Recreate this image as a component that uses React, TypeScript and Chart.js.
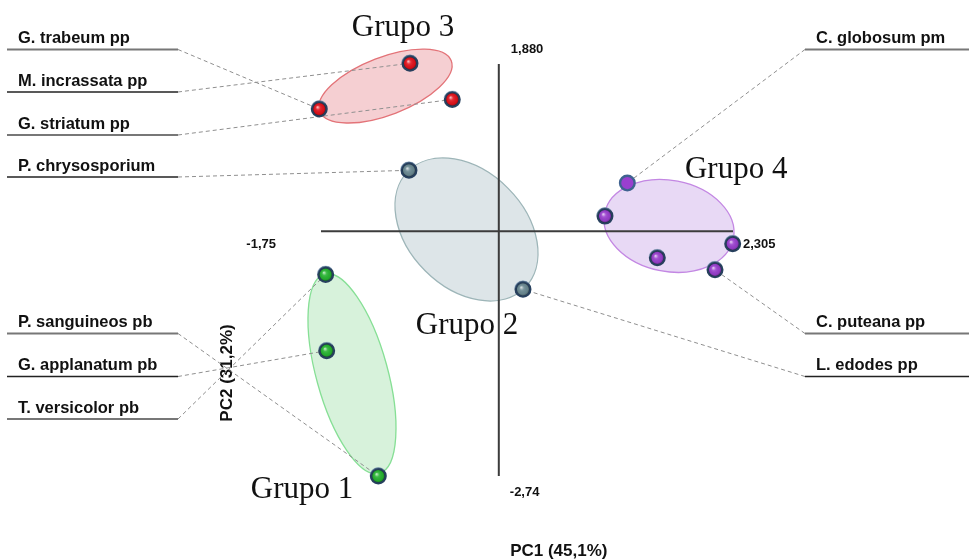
import React, { useEffect, useRef } from "react";
import { Chart, registerables } from "chart.js";

Chart.register(...registerables);

// ---------- DATA ----------
const groupNames = ["Grupo 1", "Grupo 2", "Grupo 3", "Grupo 4"];

const grupo1X = [-1.704, -1.694, -1.186];
const grupo1Y = [-0.487, -1.343, -2.752];
const grupo1Labels = ["T. versicolor pb", "G. applanatum pb", "P. sanguineos pb"];

const grupo2X = [-0.884, 0.238];
const grupo2Y = [0.685, -0.653];
const grupo2Labels = ["P. chrysosporium", "L. edodes pp"];

const grupo3X = [-0.874, -0.458, -1.767];
const grupo3Y = [1.888, 1.482, 1.373];
const grupo3Labels = ["M. incrassata pp", "G. striatum pp", "G. trabeum pp"];

const grupo4X = [1.265, 1.045, 2.302, 1.56, 2.128];
const grupo4Y = [0.542, 0.17, -0.141, -0.299, -0.434];
const grupo4Labels = ["C. globosum pm", "", "", "", "C. puteana pp"];

// confidence ellipse centres (data units)
const ellipseCX = [-1.445, -0.318, -1.115, 1.675];
const ellipseCY = [-1.602, 0.02, 1.632, 0.06];

// group title anchors (data units)
const titleX = [-1.937, -0.313, -0.943, 2.336];
const titleY = [-3.0, -1.152, 2.195, 0.595];

const xMin = -1.75;
const xMax = 2.305;
const yMin = -2.74;
const yMax = 1.88;
const xMinLabel = "-1,75";
const xMaxLabel = "2,305";
const yMinLabel = "-2,74";
const yMaxLabel = "1,880";
const xTitle = "PC1 (45,1%)";
const yTitle = "PC2 (31,2%)";

// ---------- STYLE / LAYOUT ----------
const groupColors = ["#27b531", "#6b8a93", "#e3121c", "#9a3fcf"];
const ellipseStyle = [
  { a: 103.2, b: 35.7, rot: 74.6, fill: "rgba(150,220,160,0.38)", stroke: "#86df95" },
  { a: 82.5, b: 58.5, rot: 45, fill: "rgba(190,206,210,0.52)", stroke: "#9db5b8" },
  { a: 70.4, b: 28.9, rot: -21, fill: "rgba(232,140,148,0.42)", stroke: "#e37378" },
  { a: 65.6, b: 45.6, rot: 11, fill: "rgba(205,170,232,0.45)", stroke: "#c387e3" },
];

// label slots: side, text baseline y, underline y, underline colour
const labelSlots: Record<string, { side: "L" | "R"; ty: number; ly: number; col: string; lw: number }> = {
  "G. trabeum pp": { side: "L", ty: 43, ly: 49.5, col: "#777777", lw: 2 },
  "M. incrassata pp": { side: "L", ty: 86, ly: 92, col: "#222222", lw: 1.5 },
  "G. striatum pp": { side: "L", ty: 129, ly: 135, col: "#777777", lw: 2 },
  "P. chrysosporium": { side: "L", ty: 171, ly: 177, col: "#222222", lw: 1.5 },
  "P. sanguineos pb": { side: "L", ty: 327, ly: 333.5, col: "#777777", lw: 2 },
  "G. applanatum pb": { side: "L", ty: 370, ly: 376.5, col: "#222222", lw: 1.5 },
  "T. versicolor pb": { side: "L", ty: 413, ly: 419, col: "#777777", lw: 2 },
  "C. globosum pm": { side: "R", ty: 43, ly: 49.5, col: "#777777", lw: 2 },
  "C. puteana pp": { side: "R", ty: 327, ly: 333.5, col: "#777777", lw: 2 },
  "L. edodes pp": { side: "R", ty: 370, ly: 376.5, col: "#222222", lw: 1.5 },
};

const allLabels = [grupo1Labels, grupo2Labels, grupo3Labels, grupo4Labels];
const SANS = '"Liberation Sans", Arial, sans-serif';
const SERIF = '"Liberation Serif", "Times New Roman", serif';

const pcaPlugin = {
  id: "pcaPlugin",
  beforeDatasetsDraw(chart: any) {
    const ctx: CanvasRenderingContext2D = chart.ctx;
    const xs = chart.scales.x;
    const ys = chart.scales.y;

    // ellipses
    ellipseStyle.forEach((e, i) => {
      const cx = xs.getPixelForValue(ellipseCX[i]);
      const cy = ys.getPixelForValue(ellipseCY[i]);
      ctx.save();
      ctx.beginPath();
      ctx.ellipse(cx, cy, e.a, e.b, (e.rot * Math.PI) / 180, 0, Math.PI * 2);
      ctx.fillStyle = e.fill;
      ctx.fill();
      ctx.lineWidth = 1.3;
      ctx.strokeStyle = e.stroke;
      ctx.stroke();
      ctx.restore();
    });

    // axes
    const x0 = xs.getPixelForValue(0);
    const y0 = ys.getPixelForValue(0);
    const xl = xs.getPixelForValue(xMin);
    const xr = xs.getPixelForValue(xMax);
    const yt = ys.getPixelForValue(yMax);
    const yb = ys.getPixelForValue(yMin);
    ctx.save();
    ctx.strokeStyle = "#3c3c3c";
    ctx.lineWidth = 2;
    ctx.beginPath();
    ctx.moveTo(xl, y0);
    ctx.lineTo(xr, y0);
    ctx.moveTo(x0, yt);
    ctx.lineTo(x0, yb + 1);
    ctx.stroke();

    // tick labels
    ctx.fillStyle = "#111";
    ctx.font = `bold 13px ${SANS}`;
    ctx.textBaseline = "middle";
    ctx.textAlign = "right";
    ctx.fillText(xMinLabel, xl - 45, y0 + 13);
    ctx.textAlign = "left";
    ctx.fillText(xMaxLabel, xr + 10, y0 + 13);
    ctx.fillText(yMaxLabel, x0 + 12, yt - 15);
    ctx.fillText(yMinLabel, x0 + 11, yb + 17);

    // axis titles
    ctx.font = `bold 17px ${SANS}`;
    ctx.textAlign = "center";
    ctx.textBaseline = "alphabetic";
    ctx.fillText(xTitle, x0 + 60, 556);
    ctx.save();
    ctx.translate(xl - 94, 373);
    ctx.rotate(-Math.PI / 2);
    ctx.textBaseline = "middle";
    ctx.fillText(yTitle, 0, 0);
    ctx.restore();

    // labels + leader lines
    chart.data.datasets.forEach((ds: any, di: number) => {
      const meta = chart.getDatasetMeta(di);
      allLabels[di].forEach((name: string, j: number) => {
        if (!name) return;
        const slot = labelSlots[name];
        const el = meta.data[j];
        const endX = slot.side === "L" ? 178 : 805;
        // underline
        ctx.beginPath();
        ctx.strokeStyle = slot.col;
        ctx.lineWidth = slot.lw;
        if (slot.side === "L") {
          ctx.moveTo(7, slot.ly);
          ctx.lineTo(178, slot.ly);
        } else {
          ctx.moveTo(805, slot.ly);
          ctx.lineTo(969, slot.ly);
        }
        ctx.stroke();
        // leader
        ctx.save();
        ctx.beginPath();
        ctx.setLineDash([4, 3]);
        ctx.strokeStyle = "#8f8f8f";
        ctx.lineWidth = 1;
        ctx.moveTo(endX, slot.ly);
        ctx.lineTo(el.x, el.y);
        ctx.stroke();
        ctx.restore();
        // text
        ctx.fillStyle = "#111";
        ctx.font = `bold 16.5px ${SANS}`;
        ctx.textAlign = "left";
        ctx.textBaseline = "alphabetic";
        ctx.fillText(name, slot.side === "L" ? 18 : 816, slot.ty);
      });
    });

    // group titles
    ctx.fillStyle = "#111";
    ctx.font = `31px ${SERIF}`;
    ctx.textAlign = "center";
    ctx.textBaseline = "alphabetic";
    groupNames.forEach((g, i) => {
      ctx.fillText(g, xs.getPixelForValue(titleX[i]), ys.getPixelForValue(titleY[i]));
    });
    ctx.restore();
  },
  afterDatasetsDraw(chart: any) {
    const ctx: CanvasRenderingContext2D = chart.ctx;
    chart.data.datasets.forEach((ds: any, di: number) => {
      const meta = chart.getDatasetMeta(di);
      meta.data.forEach((el: any, j: number) => {
        if (di === 3 && j === 0) return; // flat marker
        const x = el.x;
        const y = el.y;
        ctx.save();
        const g = ctx.createRadialGradient(x - 1.8, y - 2, 0.3, x, y, 6.6);
        g.addColorStop(0, "rgba(255,255,255,0.7)");
        g.addColorStop(0.3, "rgba(255,255,255,0.12)");
        g.addColorStop(0.75, "rgba(0,0,0,0.05)");
        g.addColorStop(1, "rgba(0,0,0,0.35)");
        ctx.beginPath();
        ctx.arc(x, y, 6.4, 0, Math.PI * 2);
        ctx.fillStyle = g;
        ctx.fill();
        // outer ring shading
        ctx.beginPath();
        ctx.arc(x, y, 8.4, Math.PI * 1.05, Math.PI * 1.75);
        ctx.strokeStyle = "rgba(140,170,200,0.45)";
        ctx.lineWidth = 1.2;
        ctx.stroke();
        ctx.restore();
      });
    });
  },
};

function makeData(xs: number[], ys: number[]) {
  return xs.map((x, i) => ({ x, y: ys[i] }));
}

export default function App() {
  const ref = useRef<HTMLCanvasElement>(null);
  useEffect(() => {
    if (!ref.current) return;
    const sets = [
      makeData(grupo1X, grupo1Y),
      makeData(grupo2X, grupo2Y),
      makeData(grupo3X, grupo3Y),
      makeData(grupo4X, grupo4Y),
    ];
    const chart = new Chart(ref.current, {
      type: "scatter",
      data: {
        datasets: sets.map((d, i) => ({
          label: groupNames[i],
          data: d,
          backgroundColor: groupColors[i],
          borderColor: i === 3 ? d.map((_, j) => (j === 0 ? "#3f6290" : "#27405e")) : "#27405e",
          pointRadius: 7.3,
          pointBorderWidth: 2.4,
          pointHoverRadius: 7.3,
        })),
      },
      options: {
        animation: false,
        responsive: false,
        events: [],
        clip: false as any,
        layout: { padding: { left: 321, right: 236, top: 64, bottom: 85 } },
        scales: {
          x: { type: "linear", min: xMin, max: xMax, display: false },
          y: { type: "linear", min: yMin, max: yMax, display: false },
        },
        plugins: {
          legend: { display: false },
          tooltip: { enabled: false },
          title: { display: false },
        },
      },
      plugins: [pcaPlugin],
    });
    return () => chart.destroy();
  }, []);
  return (
    <div style={{ position: "absolute", left: 0, top: 0, width: 969, height: 560, background: "#fff" }}>
      <canvas ref={ref} width={969} height={560} style={{ display: "block", width: 969, height: 560 }} />
    </div>
  );
}
